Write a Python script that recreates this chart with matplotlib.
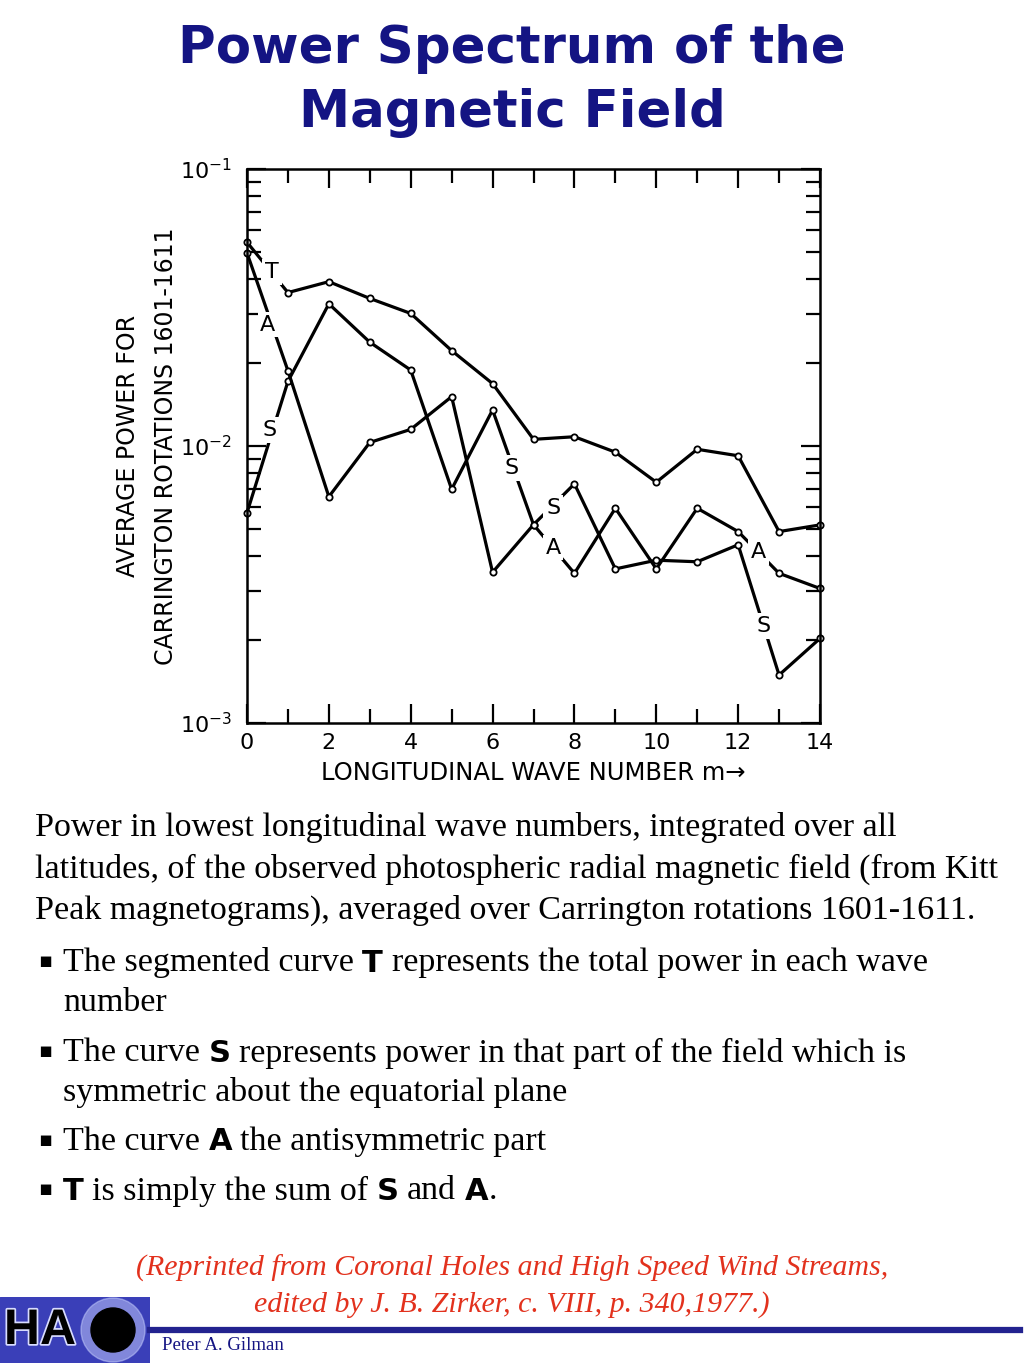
import numpy as np
import matplotlib
matplotlib.use("Agg")
import matplotlib.pyplot as plt
import matplotlib.patheffects as pe
from matplotlib.ticker import FixedLocator, NullFormatter, FuncFormatter

# wave numbers and read-off power values
m = np.arange(15)
T = [0.0544, 0.0358, 0.0392, 0.0341, 0.0301, 0.0221, 0.0168, 0.01057,
     0.0108, 0.0095, 0.0074, 0.00973, 0.00922, 0.00491, 0.00519]
S = [0.00574, 0.0171, 0.0326, 0.0237, 0.0188, 0.00698, 0.01349, 0.0052,
     0.0073, 0.0036, 0.00387, 0.00382, 0.0044, 0.00149, 0.00202]
A = [0.0498, 0.0187, 0.00656, 0.0103, 0.01148, 0.01507, 0.0035, 0.0052,
     0.00347, 0.00596, 0.0036, 0.00596, 0.00491, 0.00347, 0.00306]

# curve letters placed along the lines
lab_txt = ["T", "A", "S", "S", "S", "A", "A", "S"]
lab_m = [0.61, 0.51, 0.56, 6.47, 7.48, 7.48, 12.5, 12.63]
lab_v = [0.0425, 0.0274, 0.01143, 0.00834, 0.00597, 0.00429, 0.00414, 0.00224]

W, H = 1024, 1365
fig = plt.figure(figsize=(W / 100, H / 100), dpi=100)
fig.patch.set_facecolor("white")

ax = fig.add_axes([247 / W, 1 - 723 / H, 573 / W, 554 / H])
for y in (T, S, A):
    ax.plot(m, y, color="black", lw=2.3, marker="o", ms=4.5, mfc="white",
            mec="black", mew=1.3, zorder=2, clip_on=False)
for t, x, v in zip(lab_txt, lab_m, lab_v):
    ax.text(x, v, t, ha="center", va="center", fontsize=16, zorder=4,
            bbox=dict(boxstyle="square,pad=0.12", fc="white", ec="none"))

ax.set_yscale("log")
ax.set_xlim(0, 14)
ax.set_ylim(1e-3, 1e-1)
for s in ax.spines.values():
    s.set_linewidth(1.8)
ax.xaxis.set_major_locator(FixedLocator(np.arange(0, 15, 2)))
ax.xaxis.set_minor_locator(FixedLocator(np.arange(1, 14, 2)))
ax.tick_params(axis="both", which="both", direction="in", top=True,
               right=True, width=1.6, labelsize=16, colors="black")
ax.tick_params(axis="x", which="major", length=14, pad=7)
ax.tick_params(axis="x", which="minor", length=10)
ax.tick_params(axis="y", which="major", length=14, pad=11)
ax.tick_params(axis="y", which="minor", length=10)
ax.yaxis.set_major_formatter(FuncFormatter(
    lambda v, p: "10$^{%d}$" % int(round(np.log10(v)))))
ax.yaxis.set_minor_formatter(NullFormatter())
ax.set_xlabel("LONGITUDINAL WAVE NUMBER m\u2192", fontsize=17.5, labelpad=6)
ax.set_ylabel("AVERAGE POWER FOR\nCARRINGTON ROTATIONS 1601-1611",
              fontsize=17, linespacing=1.75)
ax.yaxis.set_label_coords(-0.12, 0.5)

# title
navy = "#141483"
fig.text(0.5, 1 - 49 / H, "Power Spectrum of the", ha="center", va="center",
         fontsize=37, fontweight="bold", color=navy, family="DejaVu Sans")
fig.text(0.5, 1 - 113 / H, "Magnetic Field", ha="center", va="center",
         fontsize=37, fontweight="bold", color=navy, family="DejaVu Sans")

renderer = fig.canvas.get_renderer()
serif = dict(family="Liberation Serif", fontsize=24.5, color="black")
bold = dict(family="DejaVu Sans", fontsize=22, fontweight="bold",
            color="black")


def space_w(style):
    a = fig.text(0, 0, "xx", **style)
    b = fig.text(0, 0, "x x", **style)
    w = (b.get_window_extent(renderer).width
         - a.get_window_extent(renderer).width)
    a.remove()
    b.remove()
    return w


sp = space_w(serif)


def runs(x, y, parts):
    # parts: list of (text, style, lead_space)
    for txt, st, lead in parts:
        if lead:
            x += sp
        t = fig.text(x / W, 1 - y / H, txt, va="center", ha="left", **st)
        x += t.get_window_extent(renderer).width


para = ["Power in lowest longitudinal wave numbers, integrated over all",
        "latitudes, of the observed photospheric radial magnetic field (from Kitt",
        "Peak magnetograms), averaged over Carrington rotations 1601-1611."]
for i, line in enumerate(para):
    fig.text(35 / W, 1 - (828 + 41 * i) / H, line, va="center", ha="left",
             **serif)

bullet_y = [962, 1052, 1141, 1190]
for y in bullet_y:
    fig.text(45 / W, 1 - (y - 1) / H, "\u25aa", va="center", ha="center",
             fontsize=15, color="black", family="DejaVu Sans")

runs(63, 963, [("The segmented curve", serif, False), ("T", bold, True),
               ("represents the total power in each wave", serif, True)])
runs(63, 1003, [("number", serif, False)])
runs(63, 1053, [("The curve", serif, False), ("S", bold, True),
                ("represents power in that part of the field which is",
                 serif, True)])
runs(63, 1093, [("symmetric about the equatorial plane", serif, False)])
runs(63, 1142, [("The curve", serif, False), ("A", bold, True),
                ("the antisymmetric part", serif, True)])
runs(63, 1191, [("T", bold, False), ("is simply the sum of", serif, True),
                ("S", bold, True), ("and", serif, True), ("A", bold, True),
                (".", serif, False)])

red = "#e2311d"
for i, line in enumerate(["(Reprinted from Coronal Holes and High Speed Wind Streams,",
                          "edited by J. B. Zirker, c. VIII, p. 340,1977.)"]):
    fig.text(512 / W, 1 - (1268 + 37 * i) / H, line, ha="center", va="center",
             family="Liberation Serif", style="italic", fontsize=21.5,
             color=red)

# footer
fig.add_artist(plt.Line2D([150 / W, 1020 / W], [1 - 1330 / H, 1 - 1330 / H],
                          transform=fig.transFigure, color="#23238f", lw=4.5))
fig.text(162 / W, 1 - 1346 / H, "Peter A. Gilman", va="center", ha="left",
         family="Liberation Serif", fontsize=13.5, color=navy)

lax = fig.add_axes([0, 1 - 1363 / H, 150 / W, 66 / H])
lax.set_xlim(0, 150)
lax.set_ylim(0, 66)
lax.axis("off")
lax.add_patch(plt.Rectangle((0, 0), 150, 66, color="#3a3fb8", zorder=0))
lax.add_patch(plt.Circle((113, 33), 32, color="#c8d0ff", alpha=0.5, zorder=1))
lax.add_patch(plt.Circle((113, 33), 22, color="black", zorder=2))
lax.text(40, 32, "HA", ha="center", va="center", fontsize=36,
         fontweight="black", family="Liberation Sans", color="black",
         zorder=3, path_effects=[pe.withStroke(linewidth=2.5,
                                                foreground="#d8dcff")])

fig.savefig("out.png", dpi=100, facecolor="white")
